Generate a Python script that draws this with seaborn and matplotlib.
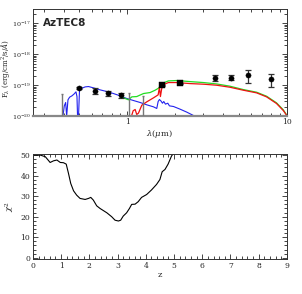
import numpy as np
import pandas as pd
import matplotlib
matplotlib.use("Agg")
import matplotlib.pyplot as plt
import seaborn as sns
from matplotlib.ticker import LogLocator, MultipleLocator, FixedLocator, NullFormatter, LogFormatterSciNotation

# ---------------- data ----------------
# photometry (micron, erg/cm2/s/A)
phot_lam = [0.496, 0.63, 0.764, 0.913, 1.65, 2.14, 3.55, 4.47, 5.73, 7.9]
phot_flux = [8.0e-20, 6.7e-20, 5.6e-20, 4.9e-20, 9.8e-20, 1.16e-19, 1.76e-19, 1.76e-19, 2.1e-19, 1.6e-19]
phot_err = [0.5e-20, 1.5e-20, 1.0e-20, 0.9e-20, 0.6e-20, 0.6e-20, 0.37e-19, 0.32e-19, 0.9e-19, 0.7e-19]
phot_marker = ["o", "o", "o", "o", "s", "s", "o", "o", "o", "o"]

# upper limits
ul_lam = [0.39, 1.03, 1.25]
ul_flux = [5.2e-20, 5.6e-20, 4.5e-20]

# blue template
blue_lam = [0.396, 0.404, 0.412, 0.418, 0.426, 0.436, 0.451, 0.466, 0.478, 0.485, 0.489, 0.496,
            0.503, 0.521, 0.546, 0.573, 0.616, 0.678, 0.746, 0.821, 0.904, 0.995, 1.095, 1.206,
            1.327, 1.461, 1.532, 1.563, 1.592, 1.631, 1.663, 1.695, 1.737, 1.796, 1.839, 1.949,
            2.144, 2.359, 2.598, 2.73]
blue_flux = [1.0e-20, 2.15e-20, 2.76e-20, 1.0e-20, 3.37e-20, 4.1e-20, 4.53e-20, 5.25e-20, 6.1e-20,
             4.3e-20, 1.0e-20, 1.0e-20, 6.73e-20, 8.0e-20, 8.83e-20, 9.06e-20, 8.2e-20, 7.06e-20,
             6.25e-20, 5.38e-20, 4.53e-20, 3.72e-20, 3.2e-20, 2.76e-20, 2.32e-20, 2.0e-20, 1.77e-20,
             2.97e-20, 3.45e-20, 3.05e-20, 2.62e-20, 2.97e-20, 2.44e-20, 2.62e-20, 2.15e-20,
             2.05e-20, 1.68e-20, 1.35e-20, 1.05e-20, 9.3e-21]

# red template
red_lam = [1.064, 1.090, 1.122, 1.148, 1.177, 1.235, 1.327, 1.461, 1.563, 1.592, 1.615, 1.647,
           1.728, 1.813, 2.043, 2.477, 2.999, 3.633, 4.40, 5.33, 6.46, 7.46, 8.61, 9.49, 10.05]
red_flux = [1.0e-20, 1.49e-20, 1.64e-20, 1.13e-20, 1.25e-20, 2.26e-20, 2.9e-20, 3.9e-20, 4.88e-20,
            8.6e-20, 4.3e-20, 8.0e-20, 1.1e-19, 1.22e-19, 1.22e-19, 1.13e-19, 1.08e-19, 1.0e-19,
            8.6e-20, 6.9e-20, 5.66e-20, 4.2e-20, 2.56e-20, 1.52e-20, 1.0e-20]

# green (total) template
green_lam = [0.904, 0.949, 1.019, 1.069, 1.148, 1.265, 1.392, 1.496, 1.570, 1.647, 1.728, 1.813,
             2.043, 2.477, 2.999, 3.633, 4.40, 5.33, 6.46, 7.46, 8.61, 9.49, 9.95]
green_flux = [4.88e-20, 3.9e-20, 3.37e-20, 4.2e-20, 4.3e-20, 5.38e-20, 5.8e-20, 6.9e-20, 8.0e-20,
              1.05e-19, 1.25e-19, 1.38e-19, 1.42e-19, 1.31e-19, 1.22e-19, 1.10e-19, 9.3e-20,
              7.24e-20, 5.94e-20, 4.41e-20, 2.69e-20, 1.6e-20, 1.1e-20]

# chi^2 vs redshift
z_vals = [0.0, 0.26, 0.44, 0.61, 0.73, 0.85, 0.97, 1.08, 1.18, 1.26, 1.34, 1.44, 1.55, 1.67,
          1.85, 1.97, 2.05, 2.14, 2.26, 2.38, 2.62, 2.79, 2.91, 3.03, 3.11, 3.20, 3.32, 3.42,
          3.50, 3.62, 3.73, 3.85, 4.03, 4.20, 4.38, 4.50, 4.58, 4.68, 4.79, 4.91, 4.95]
chi2_vals = [50.0, 50.0, 49.2, 46.4, 47.2, 47.6, 46.4, 46.3, 45.6, 41.1, 36.2, 32.6, 30.5, 28.9,
             28.4, 28.9, 29.4, 28.1, 25.3, 24.0, 21.9, 20.0, 18.3, 17.9, 18.3, 20.3, 21.9, 24.0,
             26.0, 26.1, 27.3, 29.4, 30.8, 33.0, 35.7, 38.1, 41.9, 43.0, 45.6, 49.5, 50.3]

y_major = [1e-20, 1e-19, 1e-18, 1e-17]

# ---------------- style ----------------
sns.set_style("ticks")
plt.rcParams["font.family"] = ["DejaVu Serif", "DejaVu Sans"]
plt.rcParams["mathtext.fontset"] = "dejavuserif"
plt.rcParams["xtick.direction"] = "in"
plt.rcParams["ytick.direction"] = "in"

fig = plt.figure(figsize=(3.02, 2.94), dpi=100)
ax1 = fig.add_axes([0.109, 0.605, 0.841, 0.364])
ax2 = fig.add_axes([0.109, 0.119, 0.841, 0.357])

# ---------------- top panel ----------------
dfb = pd.DataFrame({"lam": blue_lam, "flux": blue_flux})
dfr = pd.DataFrame({"lam": red_lam, "flux": red_flux})
dfg = pd.DataFrame({"lam": green_lam, "flux": green_flux})
sns.lineplot(data=dfb, x="lam", y="flux", ax=ax1, color="#2222ee", lw=0.8, sort=False, estimator=None)
sns.lineplot(data=dfg, x="lam", y="flux", ax=ax1, color="#22dd22", lw=0.9, sort=False, estimator=None)
sns.lineplot(data=dfr, x="lam", y="flux", ax=ax1, color="#ee1111", lw=0.9, sort=False, estimator=None)

# upper limits
for lam, f in zip(ul_lam, ul_flux):
    ax1.vlines(lam, 1e-20, f, color="#777777", lw=1.0, zorder=4)
    ax1.hlines(f, lam * 0.985, lam * 1.015, color="#777777", lw=1.0, zorder=4)

# photometry
ax1.errorbar(phot_lam, phot_flux, yerr=phot_err, fmt="none", ecolor="#333333",
             elinewidth=0.9, capsize=2.0, capthick=0.9, zorder=5)
dfp = pd.DataFrame({"lam": phot_lam, "flux": phot_flux, "m": phot_marker})
for m in ["o", "s"]:
    sub = dfp[dfp["m"] == m]
    sns.scatterplot(data=sub, x="lam", y="flux", ax=ax1, color="black", marker=m,
                    s=14, edgecolor="black", linewidth=0.3, zorder=6)

ax1.set_xscale("log")
ax1.set_yscale("log")
ax1.set_xlim(0.257, 10)
ax1.set_ylim(1e-20, 2.9e-17)
ax1.xaxis.set_major_locator(FixedLocator([1, 10]))
ax1.xaxis.set_major_formatter(matplotlib.ticker.FixedFormatter(["1", "10"]))
ax1.xaxis.set_minor_locator(LogLocator(base=10, subs=np.arange(2, 10)))
ax1.xaxis.set_minor_formatter(NullFormatter())
ax1.yaxis.set_major_locator(FixedLocator(y_major))
ax1.yaxis.set_major_formatter(LogFormatterSciNotation())
ax1.yaxis.set_minor_locator(LogLocator(base=10, subs=np.arange(2, 10), numticks=10))
ax1.yaxis.set_minor_formatter(NullFormatter())
ax1.tick_params(which="both", top=True, right=True, labelsize=4.6, width=0.6, pad=1.5)
ax1.tick_params(which="major", length=3.5)
ax1.tick_params(which="minor", length=2)
ax1.tick_params(axis="x", labelsize=5.5)
ax1.set_xlabel(r"$\lambda(\mu$m)", fontsize=6, labelpad=1)
ax1.set_ylabel(r"F$_\lambda$ (erg/cm$^2$/s/$\AA$)", fontsize=5.0, labelpad=0.5)
ax1.yaxis.set_label_coords(-0.082, 0.45)
ax1.text(0.04, 0.84, "AzTEC8", transform=ax1.transAxes, fontsize=7.5,
         fontweight="bold", family="DejaVu Sans")
for s in ax1.spines.values():
    s.set_color("#333333")
    s.set_linewidth(0.7)
ax1.spines["bottom"].set_color("#888888")
ax1.spines["bottom"].set_linewidth(1.6)

# ---------------- bottom panel ----------------
dfc = pd.DataFrame({"z": z_vals, "chi2": chi2_vals})
sns.lineplot(data=dfc, x="z", y="chi2", ax=ax2, color="black", lw=0.8, sort=False, estimator=None)
ax2.set_xlim(0, 9)
ax2.set_ylim(-0.6, 50.5)
ax2.xaxis.set_major_locator(MultipleLocator(1))
ax2.xaxis.set_minor_locator(MultipleLocator(0.2))
ax2.yaxis.set_major_locator(MultipleLocator(10))
ax2.yaxis.set_minor_locator(MultipleLocator(2))
ax2.tick_params(which="both", top=True, right=True, labelsize=5.5, width=0.6, pad=2)
ax2.tick_params(which="major", length=3.5)
ax2.tick_params(which="minor", length=2)
ax2.set_xlabel("z", fontsize=6, labelpad=1)
ax2.set_ylabel(r"$\chi^2$", fontsize=6, labelpad=2)
for s in ax2.spines.values():
    s.set_color("#333333")
    s.set_linewidth(0.7)

fig.savefig("out.png", dpi=100)
